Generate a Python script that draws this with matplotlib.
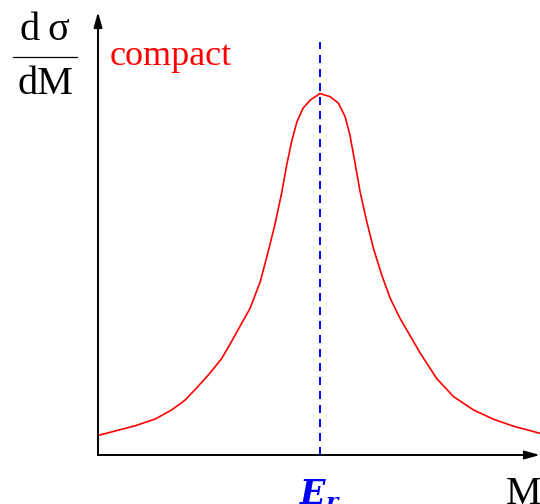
import matplotlib.pyplot as plt

plt.rcParams['mathtext.fontset'] = 'custom'
plt.rcParams['mathtext.it'] = 'DejaVu Serif:italic:bold'
plt.rcParams['mathtext.rm'] = 'DejaVu Serif:bold'

# curve (M normalised to the axis length, dsigma/dM likewise)
mass = [0.0, 0.038, 0.084, 0.129, 0.167, 0.197, 0.219, 0.250, 0.280, 0.302,
        0.321, 0.344, 0.367, 0.385, 0.400, 0.416, 0.427, 0.438, 0.450, 0.464,
        0.480, 0.502, 0.525, 0.544, 0.559, 0.570, 0.581, 0.593, 0.608, 0.623,
        0.642, 0.661, 0.683, 0.729, 0.766, 0.804, 0.849, 0.894, 0.940, 1.0]
dsigma = [0.044, 0.054, 0.066, 0.081, 0.102, 0.124, 0.147, 0.181, 0.218, 0.256,
          0.290, 0.331, 0.391, 0.459, 0.519, 0.594, 0.655, 0.707, 0.752, 0.783,
          0.801, 0.816, 0.809, 0.794, 0.764, 0.722, 0.662, 0.594, 0.527, 0.467,
          0.406, 0.354, 0.309, 0.230, 0.173, 0.132, 0.102, 0.081, 0.065, 0.049]
e_r = 0.502
e_r_top = 0.932
curve_label = 'compact'

W, H = 540, 504
fig = plt.figure(figsize=(W / 100, H / 100), dpi=100)
ax = fig.add_axes([98 / W, (H - 455) / H, (W - 98) / W, (455 - 12) / H])
ax.set_xlim(0, 1)
ax.set_ylim(0, 1)
ax.axis('off')

ax.plot(mass, dsigma, color='red', lw=1.2, clip_on=False, solid_joinstyle='round')
ax.plot([e_r, e_r], [0, e_r_top], color='blue', lw=1.4, dashes=(4.1, 3.1), clip_on=False)

# axes with arrow heads
arrow = dict(arrowstyle='-|>,head_length=0.9,head_width=0.25', color='black', lw=1.4,
             shrinkA=0, shrinkB=0)
ax.annotate('', xy=(1.0, 0), xytext=(0, 0), arrowprops=arrow, annotation_clip=False)
ax.annotate('', xy=(0, 1.0), xytext=(0, 0), arrowprops=arrow, annotation_clip=False)

serif = ['Liberation Serif', 'DejaVu Serif']
fig.text(45 / W, 1 - 30 / H, 'd\u2009σ', family=serif, fontsize=29, ha='center', va='center')
fig.add_artist(plt.Line2D([13 / W, 77 / W], [1 - 57 / H, 1 - 57 / H], color='black', lw=0.9))
fig.text(45 / W, 1 - 84 / H, 'dM', family=serif, fontsize=29, ha='center', va='center')
fig.text(110 / W, 1 - 65 / H, curve_label, family=serif, fontsize=26, color='red',
         ha='left', va='baseline')

ax.text(e_r, -0.05, r'$E_r$', color='blue', fontsize=24, ha='center', va='top')
fig.text(524 / W, 1 - 476 / H, 'M', family=serif, fontsize=29, ha='center', va='top')

fig.savefig('out.png', dpi=100)
